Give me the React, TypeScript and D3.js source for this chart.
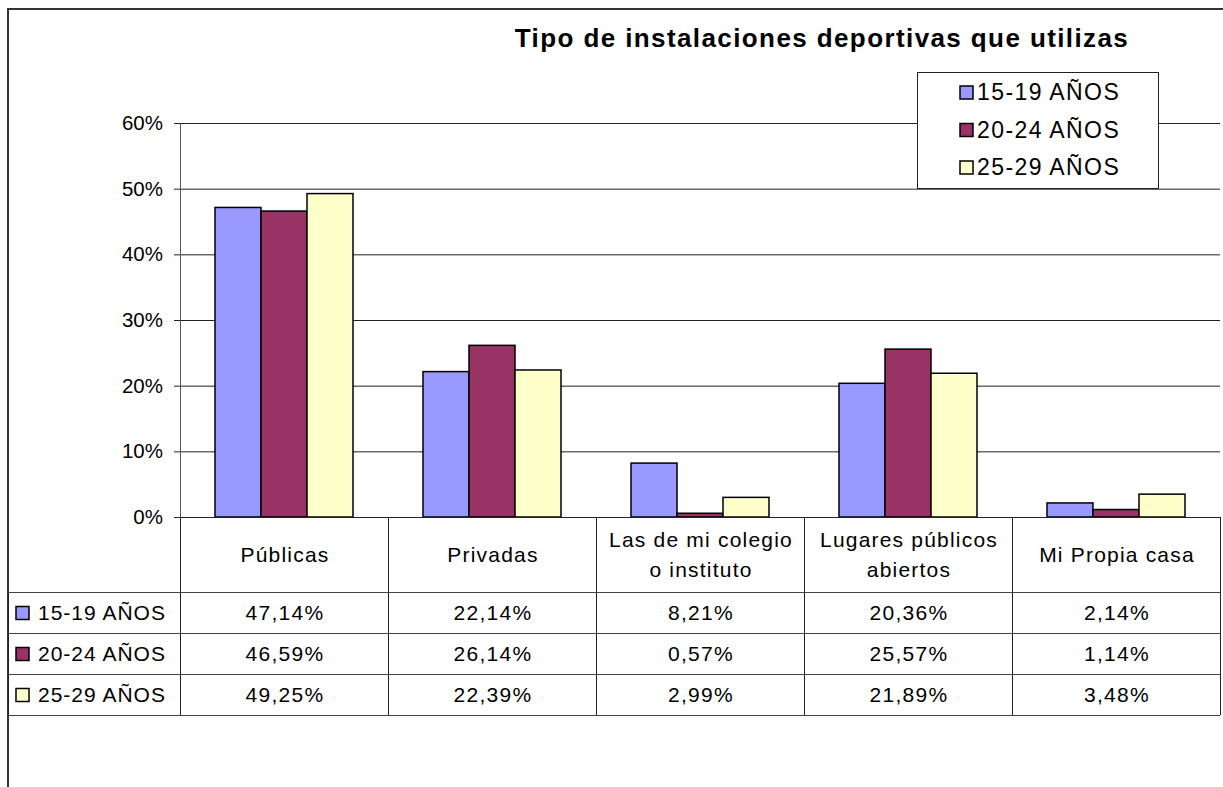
import React, { useRef, useEffect } from 'react';
import * as d3 from 'd3';

// categorías (las etiquetas con "\n" se parten en dos líneas en la tabla)
const categories = [
  'Públicas',
  'Privadas',
  'Las de mi colegio\no instituto',
  'Lugares públicos\nabiertos',
  'Mi Propia casa'
];

const seriesNames = ['15-19 AÑOS', '20-24 AÑOS', '25-29 AÑOS'];
const seriesColors = ['#9999FF', '#993366', '#FFFFCC'];

const values1519 = [47.14, 22.14, 8.21, 20.36, 2.14];
const values2024 = [46.59, 26.14, 0.57, 25.57, 1.14];
const values2529 = [49.25, 22.39, 2.99, 21.89, 3.48];

const yTicks = [0, 10, 20, 30, 40, 50, 60];

const title = 'Tipo de instalaciones deportivas que utilizas';

const fmt = (v: number) => v.toFixed(2).replace('.', ',') + '%';

const App = () => {
  const svgRef = useRef<SVGSVGElement>(null);

  useEffect(() => {
    const svg = d3.select(svgRef.current);
    svg.selectAll('*').remove();

    const width = 1223;
    const height = 787;
    const font = 'Liberation Sans, Arial, sans-serif';
    const series = [values1519, values2024, values2529];

    // zona del gráfico
    const left = 180;
    const right = 1220;
    const top = 123;
    const bottom = 517;
    const headerH = 75;
    const rowH = 41;
    const tableLeft = 8;

    const x = d3.scaleBand<string>().domain(categories).range([left, right]);
    const xs = d3.scaleBand<number>().domain(d3.range(series.length)).range([35, x.bandwidth() - 35]);
    const y = d3.scaleLinear().domain([0, 60]).range([bottom, top]);

    svg.append('rect')
      .attr('width', width).attr('height', height).attr('fill', 'white');

    // marco exterior
    svg.append('rect')
      .attr('x', 8).attr('y', 9).attr('width', width + 20).attr('height', height + 20)
      .attr('fill', 'none').attr('stroke', '#333').attr('stroke-width', 2);

    // líneas de división
    svg.append('g').selectAll('line')
      .data(yTicks.filter(d => d > 0))
      .enter().append('line')
      .attr('x1', left).attr('x2', right)
      .attr('y1', d => y(d) + 0.5).attr('y2', d => y(d) + 0.5)
      .attr('stroke', '#222').attr('stroke-width', 1);

    // eje y
    const axis = svg.append('g');
    axis.append('line')
      .attr('x1', left + 0.5).attr('x2', left + 0.5).attr('y1', top).attr('y2', bottom)
      .attr('stroke', '#555').attr('stroke-width', 1);
    axis.selectAll('.tick')
      .data(yTicks).enter().append('line')
      .attr('x1', left - 6).attr('x2', left)
      .attr('y1', d => y(d) + 0.5).attr('y2', d => y(d) + 0.5)
      .attr('stroke', '#222');
    axis.selectAll('text')
      .data(yTicks).enter().append('text')
      .attr('x', 163).attr('y', d => y(d) + 7)
      .attr('text-anchor', 'end')
      .style('font-family', font).style('font-size', '20.5px').style('fill', '#000')
      .text(d => d + '%');

    // barras
    series.forEach((vals, si) => {
      svg.append('g').selectAll('rect')
        .data(vals).enter().append('rect')
        .attr('x', (d, i) => (x(categories[i]) as number) + (xs(si) as number))
        .attr('y', d => y(d))
        .attr('width', xs.bandwidth())
        .attr('height', d => bottom - y(d))
        .attr('fill', seriesColors[si])
        .attr('stroke', '#000').attr('stroke-width', 1.5);
    });

    // tabla de datos
    const table = svg.append('g');
    const tableBottom = bottom + headerH + rowH * series.length;
    const line = (x1: number, y1: number, x2: number, y2: number, c = '#222') =>
      table.append('line').attr('x1', x1).attr('y1', y1).attr('x2', x2).attr('y2', y2)
        .attr('stroke', c).attr('stroke-width', 1);

    line(left - 6, bottom + 0.5, right, bottom + 0.5);
    d3.range(categories.length + 1).forEach(i => {
      const xx = left + i * x.bandwidth() + 0.5;
      line(xx, bottom, xx, tableBottom);
    });
    line(tableLeft + 0.5, bottom + headerH, tableLeft + 0.5, tableBottom);
    d3.range(series.length + 1).forEach(r => {
      const yy = bottom + headerH + r * rowH + 0.5;
      line(tableLeft, yy, right, yy, '#444');
    });

    // cabecera de categorías
    categories.forEach(c => {
      const lines = c.split('\n');
      const cx = (x(c) as number) + x.bandwidth() / 2 + 1;
      const cy = bottom + headerH / 2;
      lines.forEach((l, li) => {
        table.append('text')
          .attr('x', cx).attr('y', cy + 7 + (li - (lines.length - 1) / 2) * 30)
          .attr('text-anchor', 'middle')
          .style('font-family', font).style('font-size', '21px').style('letter-spacing', '1.2px')
          .text(l);
      });
    });

    // filas con valores
    series.forEach((vals, si) => {
      const cy = bottom + headerH + si * rowH + rowH / 2;
      table.append('rect')
        .attr('x', 16).attr('y', cy - 6).attr('width', 13).attr('height', 13)
        .attr('fill', seriesColors[si]).attr('stroke', '#000').attr('stroke-width', 1.5);
      table.append('text')
        .attr('x', 38).attr('y', cy + 7.5)
        .style('font-family', font).style('font-size', '21px').style('letter-spacing', '1px')
        .text(seriesNames[si]);
      vals.forEach((v, i) => {
        table.append('text')
          .attr('x', (x(categories[i]) as number) + x.bandwidth() / 2 + 1)
          .attr('y', cy + 7.5)
          .attr('text-anchor', 'middle')
          .style('font-family', font).style('font-size', '21px').style('letter-spacing', '1.3px')
          .text(fmt(v));
      });
    });

    // leyenda
    const legend = svg.append('g');
    legend.append('rect')
      .attr('x', 917.5).attr('y', 72.5).attr('width', 241).attr('height', 116)
      .attr('fill', 'white').attr('stroke', '#222').attr('stroke-width', 1);
    seriesNames.forEach((s, i) => {
      const cy = 92 + i * 37.5;
      legend.append('rect')
        .attr('x', 960).attr('y', cy - 6).attr('width', 13).attr('height', 13)
        .attr('fill', seriesColors[i]).attr('stroke', '#000').attr('stroke-width', 1.5);
      legend.append('text')
        .attr('x', 977).attr('y', cy + 8)
        .style('font-family', font).style('font-size', '23px').style('letter-spacing', '1.4px')
        .text(s);
    });

    // título
    svg.append('text')
      .attr('x', 822).attr('y', 47)
      .attr('text-anchor', 'middle')
      .style('font-family', font).style('font-size', '26px').style('font-weight', 'bold')
      .style('letter-spacing', '1.4px')
      .text(title);
  }, []);

  return (
    <svg ref={svgRef} width={1223} height={787}
      style={{ position: 'absolute', left: 0, top: 0, display: 'block' }} />
  );
};

export default App;
